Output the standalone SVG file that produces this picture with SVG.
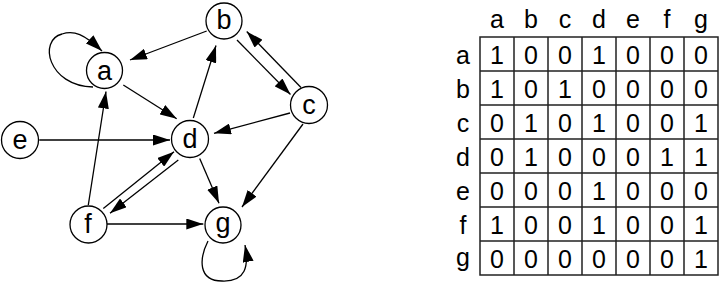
<svg xmlns="http://www.w3.org/2000/svg" width="720" height="285" viewBox="0 0 720 285">
<style>
.n{fill:#fff;stroke:#000;stroke-width:1.3}
.l{font-family:"Liberation Sans",Arial,sans-serif;font-size:27px;text-anchor:middle;fill:#000}
.e{fill:none;stroke:#000;stroke-width:1.3;marker-end:url(#ah)}
.t{font-family:"Liberation Sans",Arial,sans-serif;font-size:25px;text-anchor:middle;fill:#000}
.g{fill:none;stroke:#222;stroke-width:1.5}
</style>
<defs>
<marker id="ah" markerUnits="userSpaceOnUse" markerWidth="17" markerHeight="11" refX="17" refY="5.5" orient="auto">
<path d="M0,0 L17,5.5 L0,11 z" fill="#000"/>
</marker>
</defs>
<rect width="720" height="285" fill="#fff"/>
<g id="edges">
<path class="e" d="M93,87 C48,86 38,40 62,34 C74,30 84,34 102,51"/>
<path class="e" d="M206.7,31 L130,60"/>
<path class="e" d="M237,40 L290.5,94.5"/>
<path class="e" d="M301,87.5 L246.7,31.5"/>
<path class="e" d="M290,113 L214,133.3"/>
<path class="e" d="M303,124 L242,207"/>
<path class="e" d="M193.3,118 L216,45.5"/>
<path class="e" d="M123.3,85 L176.7,118.8"/>
<path class="e" d="M39.3,140 L170,140"/>
<path class="e" d="M199.7,158.5 L219,203.3"/>
<path class="e" d="M103.3,208.5 L174,151.7"/>
<path class="e" d="M178.3,160 L110,213.3"/>
<path class="e" d="M88.3,205 L106,91.5"/>
<path class="e" d="M107,224 L203.3,224"/>
<path class="e" d="M208,241 C199,259 198,281 222,281 C246,282 249,266 245,245"/>
</g>
<g id="node-a"><circle class="n" cx="104.5" cy="70.5" r="18"/><text class="l" x="104.5" y="80">a</text></g>
<g id="node-b"><circle class="n" cx="224" cy="21" r="18"/><text class="l" x="224" y="29">b</text></g>
<g id="node-c"><circle class="n" cx="309" cy="105" r="18.5"/><text class="l" x="309" y="114">c</text></g>
<g id="node-d"><circle class="n" cx="190" cy="139" r="18.5"/><text class="l" x="190" y="147.5">d</text></g>
<g id="node-e"><circle class="n" cx="20" cy="140" r="18.5"/><text class="l" x="20" y="149">e</text></g>
<g id="node-f"><circle class="n" cx="88.5" cy="224.5" r="18.5"/><text class="l" x="88" y="233">f</text></g>
<g id="node-g"><circle class="n" cx="223" cy="225" r="18"/><text class="l" x="223" y="231.5">g</text></g>
<g id="matrix">
<rect class="g" x="480" y="37" width="238" height="238"/>
<path class="g" d="M514,37V275M548,37V275M582,37V275M616,37V275M650,37V275M684,37V275M480,71H718M480,105H718M480,139H718M480,173H718M480,207H718M480,241H718"/>
<g class="t">
<text x="497" y="28">a</text><text x="531" y="28">b</text><text x="565" y="28">c</text><text x="599" y="28">d</text><text x="633" y="28">e</text><text x="667" y="28">f</text><text x="701" y="28">g</text>
<text x="463" y="63.5">a</text><text x="463" y="97.5">b</text><text x="463" y="131.5">c</text><text x="463" y="165.5">d</text><text x="463" y="199.5">e</text><text x="463" y="233.5">f</text><text x="463" y="265.5">g</text>
<text x="497" y="63.5">1</text><text x="531" y="63.5">0</text><text x="565" y="63.5">0</text><text x="599" y="63.5">1</text><text x="633" y="63.5">0</text><text x="667" y="63.5">0</text><text x="701" y="63.5">0</text>
<text x="497" y="97.5">1</text><text x="531" y="97.5">0</text><text x="565" y="97.5">1</text><text x="599" y="97.5">0</text><text x="633" y="97.5">0</text><text x="667" y="97.5">0</text><text x="701" y="97.5">0</text>
<text x="497" y="131.5">0</text><text x="531" y="131.5">1</text><text x="565" y="131.5">0</text><text x="599" y="131.5">1</text><text x="633" y="131.5">0</text><text x="667" y="131.5">0</text><text x="701" y="131.5">1</text>
<text x="497" y="165.5">0</text><text x="531" y="165.5">1</text><text x="565" y="165.5">0</text><text x="599" y="165.5">0</text><text x="633" y="165.5">0</text><text x="667" y="165.5">1</text><text x="701" y="165.5">1</text>
<text x="497" y="199.5">0</text><text x="531" y="199.5">0</text><text x="565" y="199.5">0</text><text x="599" y="199.5">1</text><text x="633" y="199.5">0</text><text x="667" y="199.5">0</text><text x="701" y="199.5">0</text>
<text x="497" y="233.5">1</text><text x="531" y="233.5">0</text><text x="565" y="233.5">0</text><text x="599" y="233.5">1</text><text x="633" y="233.5">0</text><text x="667" y="233.5">0</text><text x="701" y="233.5">1</text>
<text x="497" y="267.5">0</text><text x="531" y="267.5">0</text><text x="565" y="267.5">0</text><text x="599" y="267.5">0</text><text x="633" y="267.5">0</text><text x="667" y="267.5">0</text><text x="701" y="267.5">1</text>
</g>
</g>
</svg>
